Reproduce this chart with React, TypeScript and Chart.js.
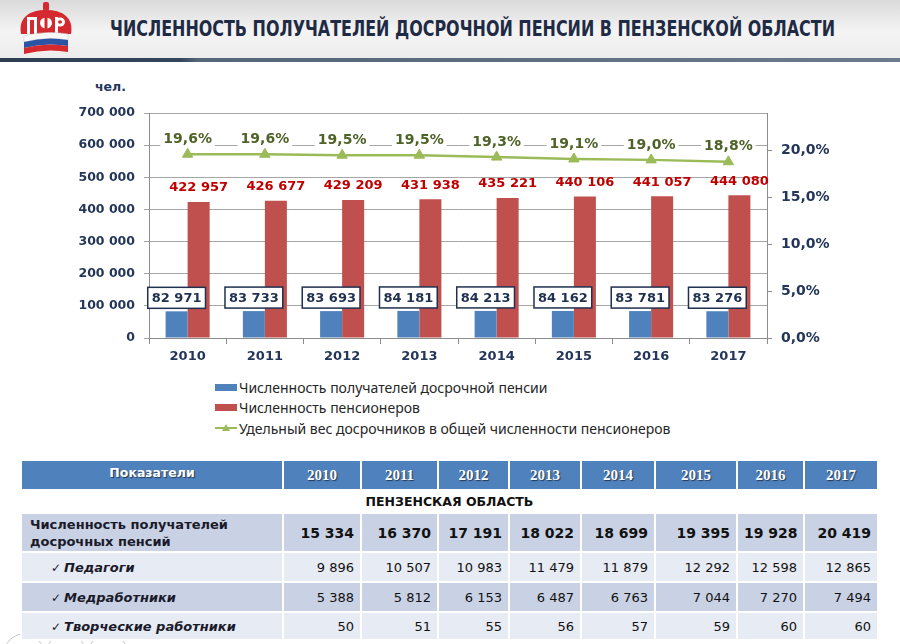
import React, { useEffect, useLayoutEffect, useRef } from "react";
import { Chart, registerables } from "chart.js";

Chart.register(...registerables);

// ---------- chart data ----------
const years = ["2010", "2011", "2012", "2013", "2014", "2015", "2016", "2017"];
const earlyPensioners = [82971, 83733, 83693, 84181, 84213, 84162, 83781, 83276];
const totalPensioners = [422957, 426677, 429209, 431938, 435221, 440106, 441057, 444080];
const earlyShare = [19.6, 19.6, 19.5, 19.5, 19.3, 19.1, 19.0, 18.8];
const leftMax = 700000;
const leftStep = 100000;
const rightMax = 24;
const rightStep = 5;

const seriesNames = [
  "Численность получателей досрочной пенсии",
  "Численность пенсионеров",
  "Удельный вес досрочников в общей численности пенсионеров",
];

// ---------- table data ----------
const titleText = "ЧИСЛЕННОСТЬ ПОЛУЧАТЕЛЕЙ ДОСРОЧНОЙ ПЕНСИИ В ПЕНЗЕНСКОЙ ОБЛАСТИ";
const tableHead = "Показатели";
const regionName = "ПЕНЗЕНСКАЯ ОБЛАСТЬ";
const rowLabels = ["Численность получателей досрочных пенсий", "Педагоги", "Медработники", "Творческие работники"];
const rowTotal = [15334, 16370, 17191, 18022, 18699, 19395, 19928, 20419];
const rowTeachers = [9896, 10507, 10983, 11479, 11879, 12292, 12598, 12865];
const rowMedical = [5388, 5812, 6153, 6487, 6763, 7044, 7270, 7494];
const rowCreative = [50, 51, 55, 56, 57, 59, 60, 60];

const fmt = (n: number) => String(Math.round(n)).replace(/\B(?=(\d{3})+(?!\d))/g, " ");
const pct = (n: number) => n.toFixed(1).replace(".", ",") + "%";

const NAVY = "#24365a";
const FONT = '"DejaVu Sans", Verdana, sans-serif';

const labelPlugin = {
  id: "valueLabels",
  afterDatasetsDraw(chart: any) {
    const ctx = chart.ctx as CanvasRenderingContext2D;
    ctx.save();
    ctx.textAlign = "center";
    ctx.textBaseline = "middle";
    // red labels
    const m1 = chart.getDatasetMeta(1);
    ctx.font = `bold 13px ${FONT}`;
    ctx.fillStyle = "#c00000";
    m1.data.forEach((el: any, i: number) => {
      ctx.fillText(fmt(totalPensioners[i]), el.x, el.y - 14);
    });
    // blue boxed labels
    const m0 = chart.getDatasetMeta(0);
    ctx.font = `bold 13px ${FONT}`;
    m0.data.forEach((el: any, i: number) => {
      const t = fmt(earlyPensioners[i]);
      const w = ctx.measureText(t).width + 8;
      const h = 21;
      const bottom = el.y - 3;
      ctx.fillStyle = "#ffffff";
      ctx.fillRect(el.x - w / 2, bottom - h, w, h);
      ctx.strokeStyle = "#1f3050";
      ctx.lineWidth = 1.5;
      ctx.strokeRect(el.x - w / 2, bottom - h, w, h);
      ctx.fillStyle = "#1f3050";
      ctx.fillText(t, el.x, bottom - h / 2 + 1);
    });
    // green labels
    const m2 = chart.getDatasetMeta(2);
    ctx.font = `bold 14px ${FONT}`;
    m2.data.forEach((el: any, i: number) => {
      const t = pct(earlyShare[i]);
      const w = ctx.measureText(t).width + 6;
      const cy = el.y - 15;
      ctx.fillStyle = "#ffffff";
      ctx.fillRect(el.x - w / 2, cy - 8, w, 16);
      ctx.fillStyle = "#4f6228";
      ctx.fillText(t, el.x, cy);
    });
    ctx.restore();
  },
};

function ChartBox() {
  const ref = useRef<HTMLCanvasElement | null>(null);
  useEffect(() => {
    if (!ref.current) return;
    const chart = new Chart(ref.current, {
      type: "bar",
      data: {
        labels: years,
        datasets: [
          {
            type: "bar",
            label: seriesNames[0],
            data: earlyPensioners,
            backgroundColor: "#4f81bd",
            yAxisID: "y",
            order: 1,
            categoryPercentage: 0.57,
            barPercentage: 1,
          } as any,
          {
            type: "bar",
            label: seriesNames[1],
            data: totalPensioners,
            backgroundColor: "#c0504d",
            yAxisID: "y",
            order: 2,
            categoryPercentage: 0.57,
            barPercentage: 1,
          } as any,
          {
            type: "line",
            label: seriesNames[2],
            data: earlyShare,
            borderColor: "#9bbb59",
            backgroundColor: "#9bbb59",
            borderWidth: 2.5,
            pointStyle: "triangle",
            pointRadius: 6,
            pointBorderWidth: 1,
            yAxisID: "y1",
            order: 0,
          } as any,
        ],
      },
      options: {
        animation: false,
        responsive: false,
        maintainAspectRatio: false,
        layout: { padding: { top: 43, left: 0, right: 0, bottom: 0 } },
        plugins: { legend: { display: false }, tooltip: { enabled: false } },
        scales: {
          x: {
            grid: { drawOnChartArea: false, offset: true, tickLength: 6, color: "#8c8c8c" },
            border: { color: "#8c8c8c" },
            ticks: { font: { weight: "bold", size: 13, family: FONT }, color: NAVY, padding: 5 },
            afterFit: (s: any) => {
              s.height = 32;
            },
          },
          y: {
            position: "left",
            min: 0,
            max: leftMax,
            ticks: {
              stepSize: leftStep,
              callback: (v: any) => fmt(Number(v)),
              font: { weight: "bold", size: 12.5, family: FONT },
              color: NAVY,
              padding: 9,
            },
            grid: { color: "#a6a6a6", tickLength: 5 },
            border: { color: "#8c8c8c" },
            afterFit: (s: any) => {
              s.width = 149;
            },
          },
          y1: {
            position: "right",
            min: 0,
            max: rightMax,
            ticks: {
              stepSize: rightStep,
              includeBounds: false,
              callback: (v: any) => pct(Number(v)),
              font: { weight: "bold", size: 14, family: FONT },
              color: NAVY,
              padding: 9,
            },
            grid: { drawOnChartArea: false, tickLength: 5, color: "#8c8c8c" },
            border: { color: "#8c8c8c" },
            afterFit: (s: any) => {
              s.width = 133;
            },
          },
        },
      } as any,
      plugins: [labelPlugin],
    });
    return () => chart.destroy();
  }, []);
  return (
    <canvas
      ref={ref}
      width={900}
      height={300}
      style={{ position: "absolute", left: 0, top: 70, width: 900, height: 300 }}
    />
  );
}

const colW = [262, 78, 77, 71, 72, 74, 82, 67, 74];
const DARK = "#c9d2e4";
const LIGHT = "#e7ebf3";

function Table() {
  const cellBase: React.CSSProperties = {
    border: "2px solid #ffffff",
    padding: "0 6px",
    boxSizing: "border-box",
    fontFamily: FONT,
    color: "#111",
    whiteSpace: "nowrap",
  };
  const subRows = [
    { label: rowLabels[1], data: rowTeachers, bg: LIGHT, h: 30 },
    { label: rowLabels[2], data: rowMedical, bg: DARK, h: 30 },
    { label: rowLabels[3], data: rowCreative, bg: LIGHT, h: 28 },
  ];
  return (
    <table
      style={{
        position: "absolute",
        left: 20,
        top: 459,
        width: 859,
        borderCollapse: "collapse",
        tableLayout: "fixed",
      }}
    >
      <colgroup>
        {colW.map((w, i) => (
          <col key={i} style={{ width: w }} />
        ))}
      </colgroup>
      <tbody>
        <tr style={{ height: 30 }}>
          <td
            style={{
              ...cellBase,
              background: "#4f81bd",
              color: "#fff",
              textAlign: "center",
              fontWeight: "bold",
              fontSize: 12.5,
              verticalAlign: "top",
              paddingTop: 4,
              textShadow: "1px 1px 1px rgba(0,0,0,0.55)",
            }}
          >
            {tableHead}
          </td>
          {years.map((y) => (
            <td
              key={y}
              style={{
                ...cellBase,
                background: "#4f81bd",
                color: "#fff",
                textAlign: "center",
                fontWeight: "bold",
                fontSize: 15,
                fontFamily: '"Liberation Serif", "Times New Roman", serif',
                textShadow: "1px 1px 1px rgba(0,0,0,0.55)",
              }}
            >
              {y}
            </td>
          ))}
        </tr>
        <tr style={{ height: 23 }}>
          <td
            colSpan={9}
            style={{ ...cellBase, background: "#fff", textAlign: "center", fontWeight: "bold", fontSize: 12.5 }}
          >
            {regionName}
          </td>
        </tr>
        <tr style={{ height: 39 }}>
          <td
            style={{
              ...cellBase,
              background: DARK,
              fontWeight: "bold",
              fontSize: 13,
              whiteSpace: "normal",
              lineHeight: "17px",
              paddingLeft: 8,
              paddingRight: 40,
              color: "#1a1a2a",
            }}
          >
            {rowLabels[0]}
          </td>
          {rowTotal.map((v, i) => (
            <td key={i} style={{ ...cellBase, background: DARK, textAlign: "right", fontWeight: "bold", fontSize: 14 }}>
              {fmt(v)}
            </td>
          ))}
        </tr>
        {subRows.map((r) => (
          <tr key={r.label} style={{ height: r.h }}>
            <td
              style={{
                ...cellBase,
                background: r.bg,
                fontWeight: "bold",
                fontStyle: "italic",
                fontSize: 13,
                paddingLeft: 29,
                color: "#1a1a2a",
              }}
            >
              <span style={{ fontWeight: "normal", fontStyle: "normal", fontSize: 12, marginRight: 3 }}>✓</span>
              {r.label}
            </td>
            {r.data.map((v, i) => (
              <td key={i} style={{ ...cellBase, background: r.bg, textAlign: "right", fontSize: 13 }}>
                {fmt(v)}
              </td>
            ))}
          </tr>
        ))}
      </tbody>
    </table>
  );
}

function Legend() {
  const row: React.CSSProperties = {
    display: "flex",
    alignItems: "center",
    height: 20.5,
    fontFamily: '"Noto Sans", "Open Sans", sans-serif',
    fontSize: 14,
    color: "#262626",
    whiteSpace: "nowrap",
  };
  return (
    <div style={{ position: "absolute", left: 215, top: 377 }}>
      <div style={row}>
        <span style={{ display: "inline-block", width: 22, height: 7, background: "#4f81bd", marginRight: 2 }} />
        {seriesNames[0]}
      </div>
      <div style={row}>
        <span style={{ display: "inline-block", width: 22, height: 7, background: "#c0504d", marginRight: 2 }} />
        {seriesNames[1]}
      </div>
      <div style={row}>
        <svg width={22} height={12} style={{ marginRight: 2 }}>
          <line x1={0} y1={6} x2={22} y2={6} stroke="#9bbb59" strokeWidth={2} />
          <path d="M11 2 L15 9 L7 9 Z" fill="#9bbb59" />
        </svg>
        {seriesNames[2]}
      </div>
    </div>
  );
}

function Title() {
  const ref = useRef<HTMLDivElement | null>(null);
  useLayoutEffect(() => {
    const el = ref.current;
    if (!el) return;
    el.style.transform = "none";
    const w = el.getBoundingClientRect().width;
    if (w > 0) el.style.transform = `scaleX(${725 / w})`;
  }, []);
  return (
    <div
      ref={ref}
      style={{
        position: "absolute",
        left: 110,
        top: 16,
        fontFamily: '"Liberation Sans Narrow", "DejaVu Sans Condensed", "Liberation Sans", sans-serif',
        fontWeight: "bold",
        fontSize: 21,
        color: "#1f2a44",
        whiteSpace: "nowrap",
        lineHeight: "26px",
        transformOrigin: "0 0",
      }}
    >
      {titleText}
    </div>
  );
}

function Header() {
  const RED = "#d42a2f";
  return (
    <>
      <div
        style={{
          position: "absolute",
          left: 0,
          top: 0,
          width: 900,
          height: 58,
          background: "linear-gradient(to bottom, #dadada 0%, #f4f4f4 55%, #ececec 100%)",
        }}
      />
      <div
        style={{
          position: "absolute",
          left: 0,
          top: 58,
          width: 900,
          height: 4,
          background: "linear-gradient(to right, #2e3d52 0%, #34465c 20%, #55657a 22%, #6b7a8c 100%)",
        }}
      />
      <svg width={56} height={52} viewBox="0 0 56 52" style={{ position: "absolute", left: 18, top: 2 }}>
        <rect x={25} y={0} width={6} height={9} rx={2} fill={RED} />
        <path d="M3 32 C0 15 12 8 28 8 C44 8 56 15 53 32 Z" fill={RED} />
        <rect x={9} y={16} width={3} height={16} fill="#fff" />
        <rect x={16} y={16} width={3} height={16} fill="#fff" />
        <rect x={9} y={15} width={10} height={3} fill="#fff" />
        <ellipse cx={28} cy={21} rx={6} ry={5.5} fill="#fff" />
        <rect x={26.5} y={12} width={3} height={20} fill={RED} />
        <rect x={37} y={15} width={3} height={17} fill="#fff" />
        <ellipse cx={42} cy={20} rx={5} ry={4.5} fill="#fff" />
        <ellipse cx={42} cy={20} rx={2} ry={1.8} fill={RED} />
        <path d="M6 34 Q28 28 50 32 L50 38 Q28 34 6 40 Z" fill="#f8f8f8" stroke="#c8c8c8" strokeWidth={0.5} />
        <path d="M6 40 Q28 34 50 38 L50 44 Q28 40 6 46 Z" fill="#2a55a5" />
        <path d="M6 46 Q28 40 50 44 L50 50 Q28 46 6 52 Z" fill={RED} />
      </svg>
      <Title />
    </>
  );
}

function Watermark() {
  return (
    <svg width={160} height={20} style={{ position: "absolute", left: 0, top: 628 }}>
      {[24, 66, 108].map((cx) => (
        <circle key={cx} cx={cx} cy={26} r={20} fill="none" stroke="#c8c8c8" strokeWidth={1} />
      ))}
    </svg>
  );
}

export default function App() {
  return (
    <div
      style={{
        position: "absolute",
        left: 0,
        top: 0,
        width: 900,
        height: 644,
        overflow: "hidden",
        background: "#ffffff",
      }}
    >
      <Header />
      <div
        style={{
          position: "absolute",
          left: 95,
          top: 79,
          fontFamily: FONT,
          fontWeight: "bold",
          fontSize: 12.5,
          color: NAVY,
        }}
      >
        чел.
      </div>
      <ChartBox />
      <Legend />
      <Watermark />
      <Table />
    </div>
  );
}
